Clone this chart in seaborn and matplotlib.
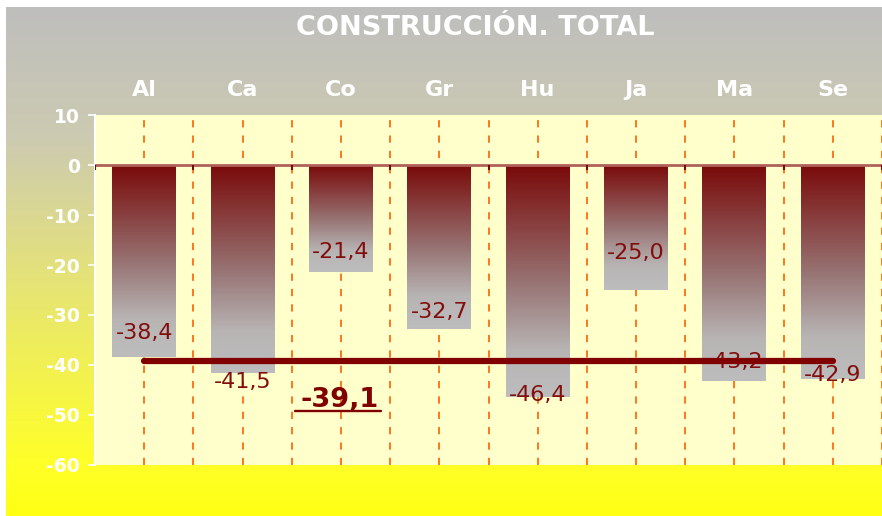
import numpy as np
import pandas as pd
import matplotlib
matplotlib.use('Agg')
import matplotlib.pyplot as plt
from matplotlib.colors import LinearSegmentedColormap
import seaborn as sns

# data
provincias = ['Al', 'Ca', 'Co', 'Gr', 'Hu', 'Ja', 'Ma', 'Se']
valores = [-38.4, -41.5, -21.4, -32.7, -46.4, -25.0, -43.2, -42.9]
total = -39.1
titulo = 'CONSTRUCCIÓN. TOTAL'
yticks = [-60, -50, -40, -30, -20, -10, 0, 10]

# where each value label sits, relative to the bar end (data units)
label_offsets = [4.8, -1.9, 4.0, 3.3, 0.4, 7.4, 3.8, 0.9]

df = pd.DataFrame({'prov': provincias, 'valor': valores})

sns.set_style('white')
plt.rcParams['font.family'] = ['DejaVu Sans']
plt.rcParams['axes.unicode_minus'] = False

W, H = 882, 516
fig = plt.figure(figsize=(W / 100, H / 100), dpi=100)
fig.patch.set_facecolor('white')

# background gradient gray -> yellow
bg = fig.add_axes([6 / W, 0, 1 - 6 / W, 1 - 7 / H])
bg.set_axis_off()
bg_cmap = LinearSegmentedColormap.from_list('bg', [
    (0.0, (190/255, 190/255, 190/255)),
    (0.25, (204/255, 202/255, 178/255)),
    (0.57, (232/255, 230/255, 112/255)),
    (0.9, (255/255, 255/255, 40/255)),
    (1.0, (255/255, 255/255, 20/255)),
])
grad = np.linspace(0, 1, 256).reshape(-1, 1)
bg.imshow(grad, aspect='auto', cmap=bg_cmap, extent=[0, 1, 0, 1], origin='upper')
bg.set_xlim(0, 1)
bg.set_ylim(0, 1)

ax = fig.add_axes([95 / W, 51 / H, 787 / W, 350 / H])
ax.set_facecolor('#ffffcc')

sns.barplot(data=df, x='prov', y='valor', width=0.65, color='#7b0c0c',
            saturation=1, ax=ax, zorder=3)

# gradient fill for each bar
bar_cmap = LinearSegmentedColormap.from_list('bar', [
    (0.0, '#7a0a0a'), (0.5, '#977272'), (0.8, '#b8b4b4'), (1.0, '#bdbdbd')])
for p in ax.patches:
    x0, y0 = p.get_x(), p.get_y()
    w, h = p.get_width(), p.get_height()
    p.set_facecolor('none')
    p.set_edgecolor('none')
    im = ax.imshow(np.linspace(0, 1, 256).reshape(-1, 1), cmap=bar_cmap,
                   aspect='auto', extent=[x0, x0 + w, y0 + h, y0],
                   origin='upper', zorder=3)
    im.set_clip_path(p)

ax.set_xlim(-0.5, len(provincias) - 0.5)
ax.set_ylim(-60, 10)

# dashed verticals at category centres and boundaries
for xv in np.arange(-0.5, len(provincias), 0.5):
    ax.axvline(xv, color='#ff6a10', lw=1.3, ls=(0, (4, 4.5)), zorder=1)

ax.axhline(0, color='#b0605a', lw=2, zorder=4)
ax.vlines(np.arange(-0.5, len(provincias), 1.0), -0.9, 0, color='#7a0a0a', lw=1.5, zorder=4)

# value labels
for i, (v, off) in enumerate(zip(valores, label_offsets)):
    ax.text(i, v + off, f'{v:.1f}'.replace('.', ','), ha='center', va='center',
            color='#820d0d', fontsize=16, zorder=5)

# total line
tot_df = pd.DataFrame({'x': range(len(provincias)), 'y': [total] * len(provincias)})
sns.lineplot(data=tot_df, x='x', y='y', ax=ax, color='#800000', lw=4.5,
             solid_capstyle='round', zorder=6)
ax.text(1.99, total - 7.9, f'{total:.1f}'.replace('.', ','), ha='center', va='center',
        color='#800000', fontsize=19.5, fontweight='bold', zorder=7)
ax.plot([1.53, 2.41], [total - 10.0, total - 10.0], color='#800000', lw=1.7, zorder=7)

# axes styling
ax.xaxis.tick_top()
ax.set_xticks(range(len(provincias)))
ax.set_xticklabels(provincias)
ax.tick_params(axis='x', length=0, pad=11, labelsize=16, labelcolor='white')
for t in ax.get_xticklabels():
    t.set_fontweight('bold')
ax.set_yticks(yticks)
ax.set_yticklabels([str(t) for t in yticks])
ax.tick_params(axis='y', left=True, length=5, width=1.2, color='white', pad=6,
               labelsize=13.5, labelcolor='white')
for t in ax.get_yticklabels():
    t.set_fontweight('bold')
ax.set_xlabel('')
ax.set_ylabel('')
for s in ['top', 'right', 'bottom']:
    ax.spines[s].set_visible(False)
ax.spines['left'].set_color('white')
ax.spines['left'].set_linewidth(1.5)

fig.text(475 / W, 1 - 28 / H, titulo, ha='center', va='center', color='white',
         fontsize=19.5, fontweight='bold')

fig.savefig('out.png', dpi=100)
